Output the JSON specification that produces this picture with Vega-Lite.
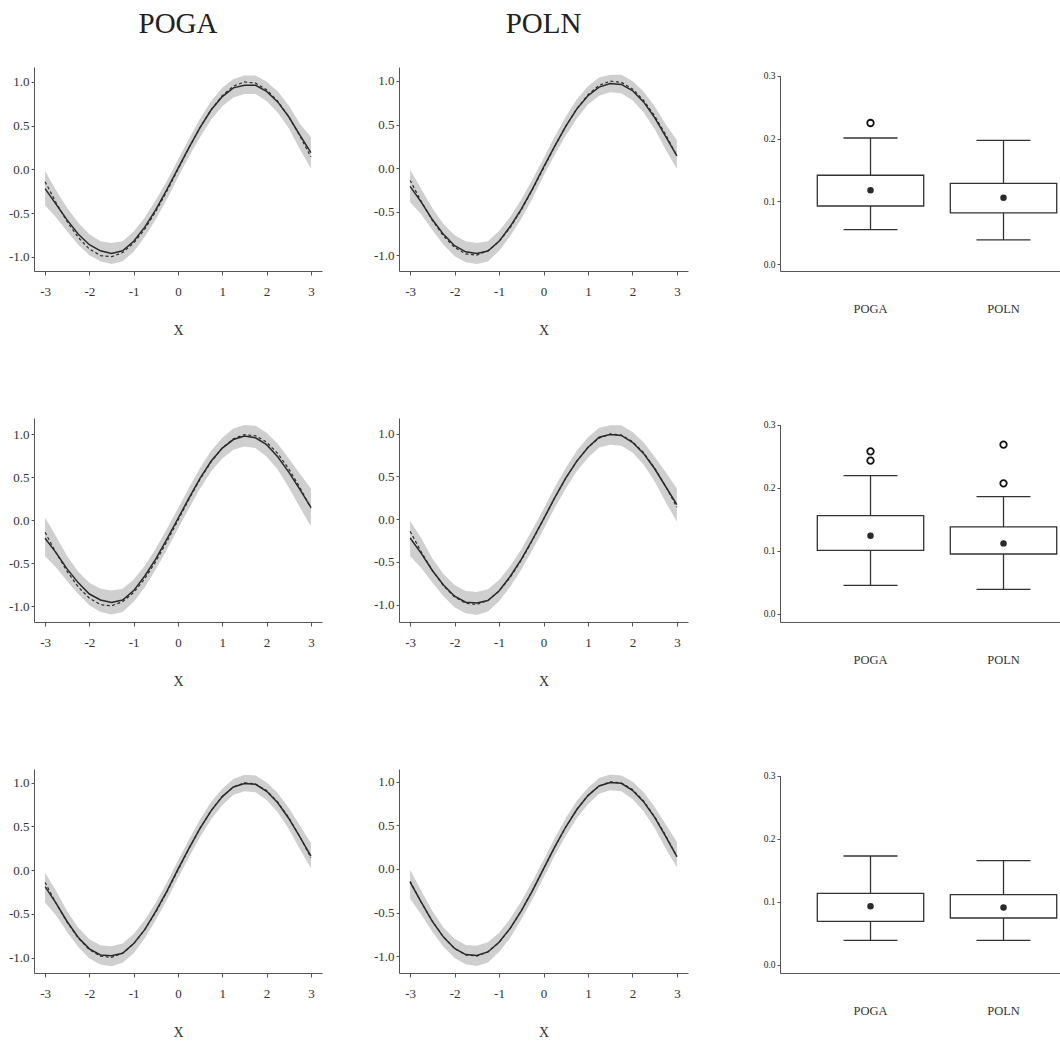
{
  "$schema": "https://vega.github.io/schema/vega-lite/v6.json",
  "padding": {"left": 4, "top": 10, "right": 0, "bottom": 0},
  "background": "white",
  "config": {
    "view": {"stroke": null},
    "font": "Liberation Serif",
    "axis": {
      "grid": false,
      "domainColor": "#555555",
      "tickColor": "#555555",
      "labelColor": "#333333",
      "labelFont": "Liberation Serif",
      "titleFont": "Liberation Serif",
      "titleFontWeight": "normal",
      "titleColor": "#333333",
      "labelFontSize": 13,
      "titleFontSize": 14,
      "labelOverlap": false,
      "labelFlush": false
    },
    "title": {"font": "Liberation Serif", "fontSize": 29, "fontWeight": "normal", "color": "#222222", "anchor": "middle", "baseline": "alphabetic", "offset": 28}
  },
  "datasets": {
    "truth": [
      {"x": -3, "y": -0.1411}, {"x": -2.75, "y": -0.3817}, {"x": -2.5, "y": -0.5985}, {"x": -2.25, "y": -0.7781},
      {"x": -2, "y": -0.9093}, {"x": -1.75, "y": -0.984}, {"x": -1.5, "y": -0.9975}, {"x": -1.25, "y": -0.949},
      {"x": -1, "y": -0.8415}, {"x": -0.75, "y": -0.6816}, {"x": -0.5, "y": -0.4794}, {"x": -0.25, "y": -0.2474},
      {"x": 0, "y": 0}, {"x": 0.25, "y": 0.2474}, {"x": 0.5, "y": 0.4794}, {"x": 0.75, "y": 0.6816},
      {"x": 1, "y": 0.8415}, {"x": 1.25, "y": 0.949}, {"x": 1.5, "y": 0.9975}, {"x": 1.75, "y": 0.984},
      {"x": 2, "y": 0.9093}, {"x": 2.25, "y": 0.7781}, {"x": 2.5, "y": 0.5985}, {"x": 2.75, "y": 0.3817},
      {"x": 3, "y": 0.1411}
    ],
    "curves": [
      {"panel": "r1c1", "x": -3, "est": -0.22, "lo": -0.41, "hi": -0.02},
      {"panel": "r1c1", "x": -2.75, "est": -0.4, "lo": -0.55, "hi": -0.24},
      {"panel": "r1c1", "x": -2.5, "est": -0.58, "lo": -0.71, "hi": -0.44},
      {"panel": "r1c1", "x": -2.25, "est": -0.74, "lo": -0.86, "hi": -0.61},
      {"panel": "r1c1", "x": -2, "est": -0.86, "lo": -0.98, "hi": -0.74},
      {"panel": "r1c1", "x": -1.75, "est": -0.93, "lo": -1.05, "hi": -0.82},
      {"panel": "r1c1", "x": -1.5, "est": -0.96, "lo": -1.08, "hi": -0.84},
      {"panel": "r1c1", "x": -1.25, "est": -0.93, "lo": -1.05, "hi": -0.82},
      {"panel": "r1c1", "x": -1, "est": -0.82, "lo": -0.94, "hi": -0.71},
      {"panel": "r1c1", "x": -0.75, "est": -0.66, "lo": -0.77, "hi": -0.55},
      {"panel": "r1c1", "x": -0.5, "est": -0.46, "lo": -0.57, "hi": -0.35},
      {"panel": "r1c1", "x": -0.25, "est": -0.23, "lo": -0.34, "hi": -0.13},
      {"panel": "r1c1", "x": 0, "est": 0.01, "lo": -0.09, "hi": 0.11},
      {"panel": "r1c1", "x": 0.25, "est": 0.25, "lo": 0.15, "hi": 0.35},
      {"panel": "r1c1", "x": 0.5, "est": 0.48, "lo": 0.37, "hi": 0.58},
      {"panel": "r1c1", "x": 0.75, "est": 0.68, "lo": 0.57, "hi": 0.78},
      {"panel": "r1c1", "x": 1, "est": 0.83, "lo": 0.72, "hi": 0.93},
      {"panel": "r1c1", "x": 1.25, "est": 0.93, "lo": 0.82, "hi": 1.03},
      {"panel": "r1c1", "x": 1.5, "est": 0.96, "lo": 0.86, "hi": 1.07},
      {"panel": "r1c1", "x": 1.75, "est": 0.96, "lo": 0.86, "hi": 1.07},
      {"panel": "r1c1", "x": 2, "est": 0.89, "lo": 0.78, "hi": 1.0},
      {"panel": "r1c1", "x": 2.25, "est": 0.77, "lo": 0.65, "hi": 0.89},
      {"panel": "r1c1", "x": 2.5, "est": 0.6, "lo": 0.47, "hi": 0.73},
      {"panel": "r1c1", "x": 2.75, "est": 0.39, "lo": 0.23, "hi": 0.52},
      {"panel": "r1c1", "x": 3, "est": 0.19, "lo": 0.01, "hi": 0.37},

      {"panel": "r1c2", "x": -3, "est": -0.21, "lo": -0.39, "hi": -0.02},
      {"panel": "r1c2", "x": -2.75, "est": -0.39, "lo": -0.53, "hi": -0.24},
      {"panel": "r1c2", "x": -2.5, "est": -0.59, "lo": -0.71, "hi": -0.46},
      {"panel": "r1c2", "x": -2.25, "est": -0.76, "lo": -0.88, "hi": -0.64},
      {"panel": "r1c2", "x": -2, "est": -0.89, "lo": -1.01, "hi": -0.77},
      {"panel": "r1c2", "x": -1.75, "est": -0.96, "lo": -1.08, "hi": -0.84},
      {"panel": "r1c2", "x": -1.5, "est": -0.98, "lo": -1.1, "hi": -0.86},
      {"panel": "r1c2", "x": -1.25, "est": -0.95, "lo": -1.07, "hi": -0.84},
      {"panel": "r1c2", "x": -1, "est": -0.84, "lo": -0.95, "hi": -0.72},
      {"panel": "r1c2", "x": -0.75, "est": -0.67, "lo": -0.78, "hi": -0.56},
      {"panel": "r1c2", "x": -0.5, "est": -0.47, "lo": -0.58, "hi": -0.36},
      {"panel": "r1c2", "x": -0.25, "est": -0.24, "lo": -0.35, "hi": -0.13},
      {"panel": "r1c2", "x": 0, "est": 0.01, "lo": -0.09, "hi": 0.11},
      {"panel": "r1c2", "x": 0.25, "est": 0.25, "lo": 0.15, "hi": 0.36},
      {"panel": "r1c2", "x": 0.5, "est": 0.48, "lo": 0.37, "hi": 0.59},
      {"panel": "r1c2", "x": 0.75, "est": 0.68, "lo": 0.57, "hi": 0.79},
      {"panel": "r1c2", "x": 1, "est": 0.83, "lo": 0.73, "hi": 0.94},
      {"panel": "r1c2", "x": 1.25, "est": 0.93, "lo": 0.83, "hi": 1.04},
      {"panel": "r1c2", "x": 1.5, "est": 0.97, "lo": 0.87, "hi": 1.07},
      {"panel": "r1c2", "x": 1.75, "est": 0.96, "lo": 0.86, "hi": 1.07},
      {"panel": "r1c2", "x": 2, "est": 0.89, "lo": 0.78, "hi": 1.0},
      {"panel": "r1c2", "x": 2.25, "est": 0.76, "lo": 0.64, "hi": 0.88},
      {"panel": "r1c2", "x": 2.5, "est": 0.58, "lo": 0.45, "hi": 0.71},
      {"panel": "r1c2", "x": 2.75, "est": 0.36, "lo": 0.21, "hi": 0.5},
      {"panel": "r1c2", "x": 3, "est": 0.14, "lo": -0.01, "hi": 0.32},

      {"panel": "r2c1", "x": -3, "est": -0.21, "lo": -0.42, "hi": 0.03},
      {"panel": "r2c1", "x": -2.75, "est": -0.38, "lo": -0.55, "hi": -0.19},
      {"panel": "r2c1", "x": -2.5, "est": -0.57, "lo": -0.71, "hi": -0.42},
      {"panel": "r2c1", "x": -2.25, "est": -0.73, "lo": -0.86, "hi": -0.6},
      {"panel": "r2c1", "x": -2, "est": -0.86, "lo": -0.99, "hi": -0.73},
      {"panel": "r2c1", "x": -1.75, "est": -0.93, "lo": -1.07, "hi": -0.8},
      {"panel": "r2c1", "x": -1.5, "est": -0.96, "lo": -1.1, "hi": -0.82},
      {"panel": "r2c1", "x": -1.25, "est": -0.93, "lo": -1.07, "hi": -0.8},
      {"panel": "r2c1", "x": -1, "est": -0.82, "lo": -0.95, "hi": -0.69},
      {"panel": "r2c1", "x": -0.75, "est": -0.65, "lo": -0.78, "hi": -0.53},
      {"panel": "r2c1", "x": -0.5, "est": -0.45, "lo": -0.57, "hi": -0.33},
      {"panel": "r2c1", "x": -0.25, "est": -0.22, "lo": -0.34, "hi": -0.1},
      {"panel": "r2c1", "x": 0, "est": 0.02, "lo": -0.1, "hi": 0.14},
      {"panel": "r2c1", "x": 0.25, "est": 0.26, "lo": 0.14, "hi": 0.38},
      {"panel": "r2c1", "x": 0.5, "est": 0.49, "lo": 0.37, "hi": 0.61},
      {"panel": "r2c1", "x": 0.75, "est": 0.69, "lo": 0.57, "hi": 0.81},
      {"panel": "r2c1", "x": 1, "est": 0.84, "lo": 0.72, "hi": 0.96},
      {"panel": "r2c1", "x": 1.25, "est": 0.94, "lo": 0.82, "hi": 1.07},
      {"panel": "r2c1", "x": 1.5, "est": 0.98, "lo": 0.86, "hi": 1.11},
      {"panel": "r2c1", "x": 1.75, "est": 0.96, "lo": 0.84, "hi": 1.1},
      {"panel": "r2c1", "x": 2, "est": 0.88, "lo": 0.74, "hi": 1.02},
      {"panel": "r2c1", "x": 2.25, "est": 0.74, "lo": 0.59, "hi": 0.89},
      {"panel": "r2c1", "x": 2.5, "est": 0.56, "lo": 0.38, "hi": 0.72},
      {"panel": "r2c1", "x": 2.75, "est": 0.36, "lo": 0.15, "hi": 0.54},
      {"panel": "r2c1", "x": 3, "est": 0.15, "lo": -0.07, "hi": 0.37},

      {"panel": "r2c2", "x": -3, "est": -0.22, "lo": -0.43, "hi": -0.02},
      {"panel": "r2c2", "x": -2.75, "est": -0.4, "lo": -0.57, "hi": -0.22},
      {"panel": "r2c2", "x": -2.5, "est": -0.6, "lo": -0.74, "hi": -0.46},
      {"panel": "r2c2", "x": -2.25, "est": -0.77, "lo": -0.9, "hi": -0.64},
      {"panel": "r2c2", "x": -2, "est": -0.9, "lo": -1.03, "hi": -0.77},
      {"panel": "r2c2", "x": -1.75, "est": -0.97, "lo": -1.1, "hi": -0.84},
      {"panel": "r2c2", "x": -1.5, "est": -0.98, "lo": -1.12, "hi": -0.85},
      {"panel": "r2c2", "x": -1.25, "est": -0.95, "lo": -1.08, "hi": -0.82},
      {"panel": "r2c2", "x": -1, "est": -0.84, "lo": -0.96, "hi": -0.71},
      {"panel": "r2c2", "x": -0.75, "est": -0.67, "lo": -0.79, "hi": -0.55},
      {"panel": "r2c2", "x": -0.5, "est": -0.47, "lo": -0.59, "hi": -0.35},
      {"panel": "r2c2", "x": -0.25, "est": -0.24, "lo": -0.36, "hi": -0.12},
      {"panel": "r2c2", "x": 0, "est": 0.0, "lo": -0.12, "hi": 0.12},
      {"panel": "r2c2", "x": 0.25, "est": 0.25, "lo": 0.13, "hi": 0.37},
      {"panel": "r2c2", "x": 0.5, "est": 0.48, "lo": 0.36, "hi": 0.6},
      {"panel": "r2c2", "x": 0.75, "est": 0.68, "lo": 0.56, "hi": 0.8},
      {"panel": "r2c2", "x": 1, "est": 0.84, "lo": 0.72, "hi": 0.96},
      {"panel": "r2c2", "x": 1.25, "est": 0.96, "lo": 0.84, "hi": 1.07},
      {"panel": "r2c2", "x": 1.5, "est": 0.99, "lo": 0.87, "hi": 1.1},
      {"panel": "r2c2", "x": 1.75, "est": 0.98, "lo": 0.86, "hi": 1.1},
      {"panel": "r2c2", "x": 2, "est": 0.9, "lo": 0.78, "hi": 1.02},
      {"panel": "r2c2", "x": 2.25, "est": 0.77, "lo": 0.64, "hi": 0.9},
      {"panel": "r2c2", "x": 2.5, "est": 0.59, "lo": 0.44, "hi": 0.73},
      {"panel": "r2c2", "x": 2.75, "est": 0.38, "lo": 0.2, "hi": 0.55},
      {"panel": "r2c2", "x": 3, "est": 0.17, "lo": -0.03, "hi": 0.36},

      {"panel": "r3c1", "x": -3, "est": -0.19, "lo": -0.37, "hi": -0.03},
      {"panel": "r3c1", "x": -2.75, "est": -0.38, "lo": -0.52, "hi": -0.24},
      {"panel": "r3c1", "x": -2.5, "est": -0.59, "lo": -0.71, "hi": -0.47},
      {"panel": "r3c1", "x": -2.25, "est": -0.77, "lo": -0.88, "hi": -0.66},
      {"panel": "r3c1", "x": -2, "est": -0.9, "lo": -1.01, "hi": -0.79},
      {"panel": "r3c1", "x": -1.75, "est": -0.97, "lo": -1.08, "hi": -0.86},
      {"panel": "r3c1", "x": -1.5, "est": -0.98, "lo": -1.1, "hi": -0.87},
      {"panel": "r3c1", "x": -1.25, "est": -0.95, "lo": -1.06, "hi": -0.84},
      {"panel": "r3c1", "x": -1, "est": -0.84, "lo": -0.95, "hi": -0.73},
      {"panel": "r3c1", "x": -0.75, "est": -0.68, "lo": -0.78, "hi": -0.57},
      {"panel": "r3c1", "x": -0.5, "est": -0.47, "lo": -0.57, "hi": -0.37},
      {"panel": "r3c1", "x": -0.25, "est": -0.24, "lo": -0.34, "hi": -0.14},
      {"panel": "r3c1", "x": 0, "est": 0.01, "lo": -0.09, "hi": 0.11},
      {"panel": "r3c1", "x": 0.25, "est": 0.25, "lo": 0.15, "hi": 0.35},
      {"panel": "r3c1", "x": 0.5, "est": 0.48, "lo": 0.38, "hi": 0.58},
      {"panel": "r3c1", "x": 0.75, "est": 0.68, "lo": 0.58, "hi": 0.78},
      {"panel": "r3c1", "x": 1, "est": 0.84, "lo": 0.74, "hi": 0.93},
      {"panel": "r3c1", "x": 1.25, "est": 0.95, "lo": 0.86, "hi": 1.04},
      {"panel": "r3c1", "x": 1.5, "est": 0.99, "lo": 0.9, "hi": 1.09},
      {"panel": "r3c1", "x": 1.75, "est": 0.98, "lo": 0.89, "hi": 1.08},
      {"panel": "r3c1", "x": 2, "est": 0.9, "lo": 0.8, "hi": 1.0},
      {"panel": "r3c1", "x": 2.25, "est": 0.77, "lo": 0.66, "hi": 0.88},
      {"panel": "r3c1", "x": 2.5, "est": 0.59, "lo": 0.47, "hi": 0.71},
      {"panel": "r3c1", "x": 2.75, "est": 0.38, "lo": 0.24, "hi": 0.51},
      {"panel": "r3c1", "x": 3, "est": 0.16, "lo": 0.02, "hi": 0.31},

      {"panel": "r3c2", "x": -3, "est": -0.15, "lo": -0.34, "hi": -0.01},
      {"panel": "r3c2", "x": -2.75, "est": -0.38, "lo": -0.52, "hi": -0.25},
      {"panel": "r3c2", "x": -2.5, "est": -0.6, "lo": -0.72, "hi": -0.48},
      {"panel": "r3c2", "x": -2.25, "est": -0.78, "lo": -0.89, "hi": -0.67},
      {"panel": "r3c2", "x": -2, "est": -0.91, "lo": -1.02, "hi": -0.8},
      {"panel": "r3c2", "x": -1.75, "est": -0.98, "lo": -1.09, "hi": -0.87},
      {"panel": "r3c2", "x": -1.5, "est": -0.99, "lo": -1.11, "hi": -0.88},
      {"panel": "r3c2", "x": -1.25, "est": -0.95, "lo": -1.07, "hi": -0.84},
      {"panel": "r3c2", "x": -1, "est": -0.84, "lo": -0.95, "hi": -0.73},
      {"panel": "r3c2", "x": -0.75, "est": -0.68, "lo": -0.79, "hi": -0.57},
      {"panel": "r3c2", "x": -0.5, "est": -0.48, "lo": -0.58, "hi": -0.37},
      {"panel": "r3c2", "x": -0.25, "est": -0.25, "lo": -0.35, "hi": -0.14},
      {"panel": "r3c2", "x": 0, "est": 0.0, "lo": -0.1, "hi": 0.1},
      {"panel": "r3c2", "x": 0.25, "est": 0.25, "lo": 0.15, "hi": 0.35},
      {"panel": "r3c2", "x": 0.5, "est": 0.48, "lo": 0.38, "hi": 0.58},
      {"panel": "r3c2", "x": 0.75, "est": 0.68, "lo": 0.58, "hi": 0.78},
      {"panel": "r3c2", "x": 1, "est": 0.84, "lo": 0.74, "hi": 0.93},
      {"panel": "r3c2", "x": 1.25, "est": 0.95, "lo": 0.86, "hi": 1.04},
      {"panel": "r3c2", "x": 1.5, "est": 0.99, "lo": 0.9, "hi": 1.08},
      {"panel": "r3c2", "x": 1.75, "est": 0.98, "lo": 0.89, "hi": 1.07},
      {"panel": "r3c2", "x": 2, "est": 0.9, "lo": 0.8, "hi": 1.0},
      {"panel": "r3c2", "x": 2.25, "est": 0.77, "lo": 0.66, "hi": 0.88},
      {"panel": "r3c2", "x": 2.5, "est": 0.59, "lo": 0.47, "hi": 0.71},
      {"panel": "r3c2", "x": 2.75, "est": 0.37, "lo": 0.23, "hi": 0.51},
      {"panel": "r3c2", "x": 3, "est": 0.14, "lo": 0.02, "hi": 0.31}
    ],
    "boxes": [
      {"row": 1, "method": "POGA", "lower": 0.055, "q1": 0.0927, "q3": 0.1416, "upper": 0.2009, "mean": 0.1177},
      {"row": 1, "method": "POLN", "lower": 0.0387, "q1": 0.0816, "q3": 0.1288, "upper": 0.197, "mean": 0.106},
      {"row": 2, "method": "POGA", "lower": 0.0453, "q1": 0.1008, "q3": 0.1558, "upper": 0.2192, "mean": 0.124},
      {"row": 2, "method": "POLN", "lower": 0.039, "q1": 0.0951, "q3": 0.1379, "upper": 0.186, "mean": 0.1119},
      {"row": 3, "method": "POGA", "lower": 0.0386, "q1": 0.0687, "q3": 0.1132, "upper": 0.1724, "mean": 0.0925},
      {"row": 3, "method": "POLN", "lower": 0.0386, "q1": 0.074, "q3": 0.111, "upper": 0.165, "mean": 0.0905}
    ],
    "outliers": [
      {"row": 1, "method": "POGA", "value": 0.2247},
      {"row": 2, "method": "POGA", "value": 0.2577},
      {"row": 2, "method": "POGA", "value": 0.243},
      {"row": 2, "method": "POLN", "value": 0.2683},
      {"row": 2, "method": "POLN", "value": 0.207}
    ]
  },
  "columns": 3,
  "align": "each",
  "spacing": {"row": 81, "column": 47},
  "concat": [
    {
      "title": {"text": "POGA"},
      "width": 288, "height": 204,
      "layer": [
        {"data": {"name": "curves"}, "transform": [{"filter": "datum.panel === 'r1c1'"}],
         "mark": {"type": "area", "color": "#cfcfcf", "opacity": 1},
         "encoding": {
           "x": {"field": "x", "type": "quantitative", "scale": {"domain": [-3.25, 3.25], "nice": false, "zero": false},
                 "axis": {"values": [-3, -2, -1, 0, 1, 2, 3], "format": "d", "labelExpr": "replace(datum.label, '\u2212', '-')", "tickSize": 4, "labelPadding": 10, "title": "X", "titlePadding": 25}},
           "y": {"field": "lo", "type": "quantitative", "scale": {"domain": [-1.16, 1.168], "nice": false, "zero": false},
                 "axis": {"values": [-1, -0.5, 0, 0.5, 1], "format": ".1f", "labelExpr": "replace(datum.label, '\u2212', '-')", "tickSize": 3, "labelPadding": 2, "minExtent": 30, "title": null}},
           "y2": {"field": "hi"}
         }},
        {"data": {"name": "curves"}, "transform": [{"filter": "datum.panel === 'r1c1'"}],
         "mark": {"type": "line", "color": "#2a2a2a", "strokeWidth": 1.5},
         "encoding": {"x": {"field": "x", "type": "quantitative"}, "y": {"field": "est", "type": "quantitative"}}},
        {"data": {"name": "truth"},
         "mark": {"type": "line", "color": "#2a2a2a", "strokeWidth": 1.2, "strokeDash": [3, 2.5]},
         "encoding": {"x": {"field": "x", "type": "quantitative"}, "y": {"field": "y", "type": "quantitative"}}}
      ]
    },
    {
      "title": {"text": "POLN"},
      "width": 289, "height": 204,
      "layer": [
        {"data": {"name": "curves"}, "transform": [{"filter": "datum.panel === 'r1c2'"}],
         "mark": {"type": "area", "color": "#cfcfcf", "opacity": 1},
         "encoding": {
           "x": {"field": "x", "type": "quantitative", "scale": {"domain": [-3.25, 3.25], "nice": false, "zero": false},
                 "axis": {"values": [-3, -2, -1, 0, 1, 2, 3], "format": "d", "labelExpr": "replace(datum.label, '\u2212', '-')", "tickSize": 4, "labelPadding": 10, "title": "X", "titlePadding": 25}},
           "y": {"field": "lo", "type": "quantitative", "scale": {"domain": [-1.18, 1.16], "nice": false, "zero": false},
                 "axis": {"values": [-1, -0.5, 0, 0.5, 1], "format": ".1f", "labelExpr": "replace(datum.label, '\u2212', '-')", "tickSize": 3, "labelPadding": 2, "minExtent": 30, "title": null}},
           "y2": {"field": "hi"}
         }},
        {"data": {"name": "curves"}, "transform": [{"filter": "datum.panel === 'r1c2'"}],
         "mark": {"type": "line", "color": "#2a2a2a", "strokeWidth": 1.5},
         "encoding": {"x": {"field": "x", "type": "quantitative"}, "y": {"field": "est", "type": "quantitative"}}},
        {"data": {"name": "truth"},
         "mark": {"type": "line", "color": "#2a2a2a", "strokeWidth": 1.2, "strokeDash": [3, 2.5]},
         "encoding": {"x": {"field": "x", "type": "quantitative"}, "y": {"field": "y", "type": "quantitative"}}}
      ]
    },
    {
      "title": {"text": " "},
      "width": 280, "height": 204,
      "layer": [
        {"data": {"name": "boxes"}, "transform": [{"filter": "datum.row === 1"}],
         "mark": {"type": "rule", "color": "#333333", "strokeWidth": 1.3},
         "encoding": {
           "x": {"field": "method", "type": "nominal", "scale": {"type": "band", "domain": ["POGA", "POLN"], "paddingInner": 0.2, "paddingOuter": 0.1526, "align": 0.919},
                 "axis": {"ticks": false, "labelPadding": 31, "labelFontSize": 12.5, "labelAngle": 0, "title": null}},
           "y": {"field": "lower", "type": "quantitative", "scale": {"domain": [-0.0107, 0.3138], "nice": false, "zero": false},
                 "axis": {"values": [0, 0.1, 0.2, 0.3], "format": ".1f", "labelFontSize": 9.5, "labelColor": "#222222", "tickSize": 3, "labelPadding": 2, "minExtent": 45, "domainDash": [195.3, 40], "title": null}},
           "y2": {"field": "upper"}
         }},
        {"data": {"name": "boxes"}, "transform": [{"filter": "datum.row === 1"}],
         "mark": {"type": "tick", "size": 54, "thickness": 1.3, "color": "#333333", "opacity": 1},
         "encoding": {"x": {"field": "method", "type": "nominal"}, "y": {"field": "upper", "type": "quantitative"}}},
        {"data": {"name": "boxes"}, "transform": [{"filter": "datum.row === 1"}],
         "mark": {"type": "tick", "size": 54, "thickness": 1.3, "color": "#333333", "opacity": 1},
         "encoding": {"x": {"field": "method", "type": "nominal"}, "y": {"field": "lower", "type": "quantitative"}}},
        {"data": {"name": "boxes"}, "transform": [{"filter": "datum.row === 1"}],
         "mark": {"type": "bar", "fill": "white", "stroke": "#333333", "strokeWidth": 1.3},
         "encoding": {"x": {"field": "method", "type": "nominal"}, "y": {"field": "q1", "type": "quantitative"}, "y2": {"field": "q3"}}},
        {"data": {"name": "boxes"}, "transform": [{"filter": "datum.row === 1"}],
         "mark": {"type": "point", "filled": true, "color": "#2a2a2a", "size": 42, "opacity": 1},
         "encoding": {"x": {"field": "method", "type": "nominal"}, "y": {"field": "mean", "type": "quantitative"}}},
        {"data": {"name": "outliers"}, "transform": [{"filter": "datum.row === 1"}],
         "mark": {"type": "point", "filled": false, "color": "#111111", "strokeWidth": 1.8, "size": 42, "opacity": 1},
         "encoding": {"x": {"field": "method", "type": "nominal"}, "y": {"field": "value", "type": "quantitative"}}}
      ]
    },
    {
      "width": 288, "height": 204,
      "layer": [
        {"data": {"name": "curves"}, "transform": [{"filter": "datum.panel === 'r2c1'"}],
         "mark": {"type": "area", "color": "#cfcfcf", "opacity": 1},
         "encoding": {
           "x": {"field": "x", "type": "quantitative", "scale": {"domain": [-3.25, 3.25], "nice": false, "zero": false},
                 "axis": {"values": [-3, -2, -1, 0, 1, 2, 3], "format": "d", "labelExpr": "replace(datum.label, '\u2212', '-')", "tickSize": 4, "labelPadding": 10, "title": "X", "titlePadding": 25}},
           "y": {"field": "lo", "type": "quantitative", "scale": {"domain": [-1.186, 1.191], "nice": false, "zero": false},
                 "axis": {"values": [-1, -0.5, 0, 0.5, 1], "format": ".1f", "labelExpr": "replace(datum.label, '\u2212', '-')", "tickSize": 3, "labelPadding": 2, "minExtent": 30, "title": null}},
           "y2": {"field": "hi"}
         }},
        {"data": {"name": "curves"}, "transform": [{"filter": "datum.panel === 'r2c1'"}],
         "mark": {"type": "line", "color": "#2a2a2a", "strokeWidth": 1.5},
         "encoding": {"x": {"field": "x", "type": "quantitative"}, "y": {"field": "est", "type": "quantitative"}}},
        {"data": {"name": "truth"},
         "mark": {"type": "line", "color": "#2a2a2a", "strokeWidth": 1.2, "strokeDash": [3, 2.5]},
         "encoding": {"x": {"field": "x", "type": "quantitative"}, "y": {"field": "y", "type": "quantitative"}}}
      ]
    },
    {
      "width": 289, "height": 204,
      "layer": [
        {"data": {"name": "curves"}, "transform": [{"filter": "datum.panel === 'r2c2'"}],
         "mark": {"type": "area", "color": "#cfcfcf", "opacity": 1},
         "encoding": {
           "x": {"field": "x", "type": "quantitative", "scale": {"domain": [-3.25, 3.25], "nice": false, "zero": false},
                 "axis": {"values": [-3, -2, -1, 0, 1, 2, 3], "format": "d", "labelExpr": "replace(datum.label, '\u2212', '-')", "tickSize": 4, "labelPadding": 10, "title": "X", "titlePadding": 25}},
           "y": {"field": "lo", "type": "quantitative", "scale": {"domain": [-1.202, 1.184], "nice": false, "zero": false},
                 "axis": {"values": [-1, -0.5, 0, 0.5, 1], "format": ".1f", "labelExpr": "replace(datum.label, '\u2212', '-')", "tickSize": 3, "labelPadding": 2, "minExtent": 30, "title": null}},
           "y2": {"field": "hi"}
         }},
        {"data": {"name": "curves"}, "transform": [{"filter": "datum.panel === 'r2c2'"}],
         "mark": {"type": "line", "color": "#2a2a2a", "strokeWidth": 1.5},
         "encoding": {"x": {"field": "x", "type": "quantitative"}, "y": {"field": "est", "type": "quantitative"}}},
        {"data": {"name": "truth"},
         "mark": {"type": "line", "color": "#2a2a2a", "strokeWidth": 1.2, "strokeDash": [3, 2.5]},
         "encoding": {"x": {"field": "x", "type": "quantitative"}, "y": {"field": "y", "type": "quantitative"}}}
      ]
    },
    {
      "width": 280, "height": 204,
      "layer": [
        {"data": {"name": "boxes"}, "transform": [{"filter": "datum.row === 2"}],
         "mark": {"type": "rule", "color": "#333333", "strokeWidth": 1.3},
         "encoding": {
           "x": {"field": "method", "type": "nominal", "scale": {"type": "band", "domain": ["POGA", "POLN"], "paddingInner": 0.2, "paddingOuter": 0.1526, "align": 0.919},
                 "axis": {"ticks": false, "labelPadding": 31, "labelFontSize": 12.5, "labelAngle": 0, "title": null}},
           "y": {"field": "lower", "type": "quantitative", "scale": {"domain": [-0.0127, 0.3106], "nice": false, "zero": false},
                 "axis": {"values": [0, 0.1, 0.2, 0.3], "format": ".1f", "labelFontSize": 9.5, "labelColor": "#222222", "tickSize": 3, "labelPadding": 2, "minExtent": 45, "domainDash": [197.3, 40], "title": null}},
           "y2": {"field": "upper"}
         }},
        {"data": {"name": "boxes"}, "transform": [{"filter": "datum.row === 2"}],
         "mark": {"type": "tick", "size": 54, "thickness": 1.3, "color": "#333333", "opacity": 1},
         "encoding": {"x": {"field": "method", "type": "nominal"}, "y": {"field": "upper", "type": "quantitative"}}},
        {"data": {"name": "boxes"}, "transform": [{"filter": "datum.row === 2"}],
         "mark": {"type": "tick", "size": 54, "thickness": 1.3, "color": "#333333", "opacity": 1},
         "encoding": {"x": {"field": "method", "type": "nominal"}, "y": {"field": "lower", "type": "quantitative"}}},
        {"data": {"name": "boxes"}, "transform": [{"filter": "datum.row === 2"}],
         "mark": {"type": "bar", "fill": "white", "stroke": "#333333", "strokeWidth": 1.3},
         "encoding": {"x": {"field": "method", "type": "nominal"}, "y": {"field": "q1", "type": "quantitative"}, "y2": {"field": "q3"}}},
        {"data": {"name": "boxes"}, "transform": [{"filter": "datum.row === 2"}],
         "mark": {"type": "point", "filled": true, "color": "#2a2a2a", "size": 42, "opacity": 1},
         "encoding": {"x": {"field": "method", "type": "nominal"}, "y": {"field": "mean", "type": "quantitative"}}},
        {"data": {"name": "outliers"}, "transform": [{"filter": "datum.row === 2"}],
         "mark": {"type": "point", "filled": false, "color": "#111111", "strokeWidth": 1.8, "size": 42, "opacity": 1},
         "encoding": {"x": {"field": "method", "type": "nominal"}, "y": {"field": "value", "type": "quantitative"}}}
      ]
    },
    {
      "width": 288, "height": 204,
      "layer": [
        {"data": {"name": "curves"}, "transform": [{"filter": "datum.panel === 'r3c1'"}],
         "mark": {"type": "area", "color": "#cfcfcf", "opacity": 1},
         "encoding": {
           "x": {"field": "x", "type": "quantitative", "scale": {"domain": [-3.25, 3.25], "nice": false, "zero": false},
                 "axis": {"values": [-3, -2, -1, 0, 1, 2, 3], "format": "d", "labelExpr": "replace(datum.label, '\u2212', '-')", "tickSize": 4, "labelPadding": 10, "title": "X", "titlePadding": 25}},
           "y": {"field": "lo", "type": "quantitative", "scale": {"domain": [-1.176, 1.155], "nice": false, "zero": false},
                 "axis": {"values": [-1, -0.5, 0, 0.5, 1], "format": ".1f", "labelExpr": "replace(datum.label, '\u2212', '-')", "tickSize": 3, "labelPadding": 2, "minExtent": 30, "title": null}},
           "y2": {"field": "hi"}
         }},
        {"data": {"name": "curves"}, "transform": [{"filter": "datum.panel === 'r3c1'"}],
         "mark": {"type": "line", "color": "#2a2a2a", "strokeWidth": 1.5},
         "encoding": {"x": {"field": "x", "type": "quantitative"}, "y": {"field": "est", "type": "quantitative"}}},
        {"data": {"name": "truth"},
         "mark": {"type": "line", "color": "#2a2a2a", "strokeWidth": 1.2, "strokeDash": [3, 2.5]},
         "encoding": {"x": {"field": "x", "type": "quantitative"}, "y": {"field": "y", "type": "quantitative"}}}
      ]
    },
    {
      "width": 289, "height": 204,
      "layer": [
        {"data": {"name": "curves"}, "transform": [{"filter": "datum.panel === 'r3c2'"}],
         "mark": {"type": "area", "color": "#cfcfcf", "opacity": 1},
         "encoding": {
           "x": {"field": "x", "type": "quantitative", "scale": {"domain": [-3.25, 3.25], "nice": false, "zero": false},
                 "axis": {"values": [-3, -2, -1, 0, 1, 2, 3], "format": "d", "labelExpr": "replace(datum.label, '\u2212', '-')", "tickSize": 4, "labelPadding": 10, "title": "X", "titlePadding": 25}},
           "y": {"field": "lo", "type": "quantitative", "scale": {"domain": [-1.191, 1.144], "nice": false, "zero": false},
                 "axis": {"values": [-1, -0.5, 0, 0.5, 1], "format": ".1f", "labelExpr": "replace(datum.label, '\u2212', '-')", "tickSize": 3, "labelPadding": 2, "minExtent": 30, "title": null}},
           "y2": {"field": "hi"}
         }},
        {"data": {"name": "curves"}, "transform": [{"filter": "datum.panel === 'r3c2'"}],
         "mark": {"type": "line", "color": "#2a2a2a", "strokeWidth": 1.5},
         "encoding": {"x": {"field": "x", "type": "quantitative"}, "y": {"field": "est", "type": "quantitative"}}},
        {"data": {"name": "truth"},
         "mark": {"type": "line", "color": "#2a2a2a", "strokeWidth": 1.2, "strokeDash": [3, 2.5]},
         "encoding": {"x": {"field": "x", "type": "quantitative"}, "y": {"field": "y", "type": "quantitative"}}}
      ]
    },
    {
      "width": 280, "height": 204,
      "layer": [
        {"data": {"name": "boxes"}, "transform": [{"filter": "datum.row === 3"}],
         "mark": {"type": "rule", "color": "#333333", "strokeWidth": 1.3},
         "encoding": {
           "x": {"field": "method", "type": "nominal", "scale": {"type": "band", "domain": ["POGA", "POLN"], "paddingInner": 0.2, "paddingOuter": 0.1526, "align": 0.919},
                 "axis": {"ticks": false, "labelPadding": 31, "labelFontSize": 12.5, "labelAngle": 0, "title": null}},
           "y": {"field": "lower", "type": "quantitative", "scale": {"domain": [-0.0133, 0.3105], "nice": false, "zero": false},
                 "axis": {"values": [0, 0.1, 0.2, 0.3], "format": ".1f", "labelFontSize": 9.5, "labelColor": "#222222", "tickSize": 3, "labelPadding": 2, "minExtent": 45, "domainDash": [197.4, 40], "title": null}},
           "y2": {"field": "upper"}
         }},
        {"data": {"name": "boxes"}, "transform": [{"filter": "datum.row === 3"}],
         "mark": {"type": "tick", "size": 54, "thickness": 1.3, "color": "#333333", "opacity": 1},
         "encoding": {"x": {"field": "method", "type": "nominal"}, "y": {"field": "upper", "type": "quantitative"}}},
        {"data": {"name": "boxes"}, "transform": [{"filter": "datum.row === 3"}],
         "mark": {"type": "tick", "size": 54, "thickness": 1.3, "color": "#333333", "opacity": 1},
         "encoding": {"x": {"field": "method", "type": "nominal"}, "y": {"field": "lower", "type": "quantitative"}}},
        {"data": {"name": "boxes"}, "transform": [{"filter": "datum.row === 3"}],
         "mark": {"type": "bar", "fill": "white", "stroke": "#333333", "strokeWidth": 1.3},
         "encoding": {"x": {"field": "method", "type": "nominal"}, "y": {"field": "q1", "type": "quantitative"}, "y2": {"field": "q3"}}},
        {"data": {"name": "boxes"}, "transform": [{"filter": "datum.row === 3"}],
         "mark": {"type": "point", "filled": true, "color": "#2a2a2a", "size": 42, "opacity": 1},
         "encoding": {"x": {"field": "method", "type": "nominal"}, "y": {"field": "mean", "type": "quantitative"}}}
      ]
    }
  ]
}
